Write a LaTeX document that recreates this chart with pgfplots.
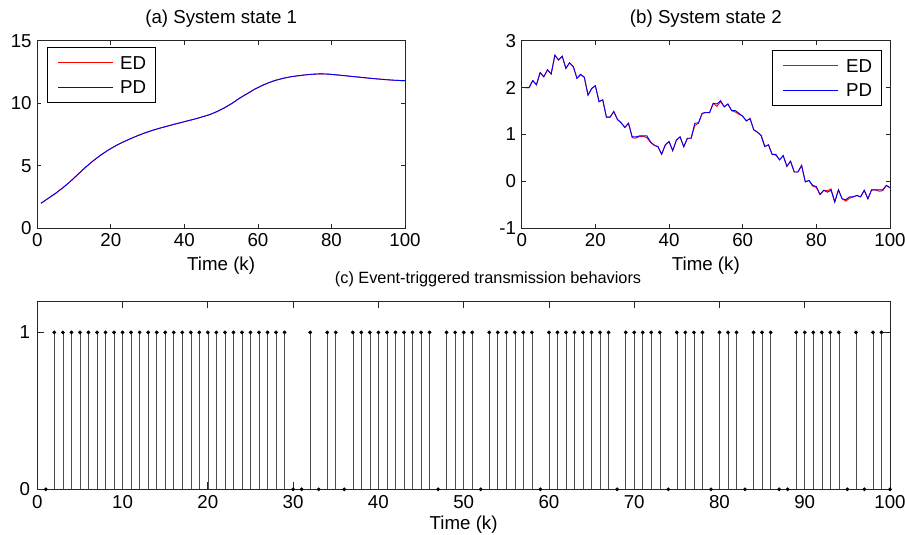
\documentclass[border=0pt]{standalone}
\usepackage{fontspec}
\setmainfont{Liberation Sans}
\usepackage{pgfplots}
\usepackage{pgfplotstable}
\pgfplotsset{compat=1.18}
\newcommand\fs{\fontsize{18.7}{22}\selectfont}

\pgfplotstableread{
k y
1 2.0
3 2.4
5 2.8
7 3.25
9 3.75
11 4.3
13 4.85
15 5.35
17 5.8
19 6.2
21 6.55
23 6.85
25 7.12
27 7.37
29 7.6
31 7.8
33 7.98
35 8.14
37 8.3
39 8.45
41 8.6
43 8.75
45 8.92
47 9.1
49 9.35
51 9.65
53 10.0
55 10.4
57 10.75
59 11.1
61 11.4
63 11.65
65 11.85
67 12.0
69 12.12
71 12.2
73 12.27
75 12.32
77 12.35
79 12.33
81 12.28
83 12.22
85 12.16
87 12.1
89 12.04
91 11.98
93 11.93
95 11.88
97 11.84
99 11.81
100 11.8
}\stateone

\pgfplotstableread{
k pd ed
1 2.00 2.00
2 2.00 2.00
3 2.15 2.15
4 2.06 2.06
5 2.32 2.32
6 2.23 2.23
7 2.38 2.38
8 2.29 2.29
9 2.69 2.69
10 2.59 2.59
11 2.67 2.67
12 2.41 2.41
13 2.53 2.53
14 2.45 2.45
15 2.20 2.20
16 2.28 2.28
17 2.22 2.22
18 1.84 1.84
19 1.98 1.98
20 2.04 2.04
21 1.70 1.70
22 1.74 1.74
23 1.37 1.37
24 1.37 1.37
25 1.49 1.49
26 1.32 1.32
27 1.25 1.25
28 1.15 1.15
29 1.24 1.24
30 0.95 0.93
31 0.95 0.92
32 0.97 0.96
33 0.97 0.96
34 0.97 0.93
35 0.84 0.83
36 0.77 0.77
37 0.74 0.74
38 0.58 0.58
39 0.78 0.78
40 0.85 0.85
41 0.655 0.655
42 0.88 0.88
43 0.95 0.95
44 0.74 0.74
45 0.92 0.92
46 0.92 0.92
47 1.24 1.19
48 1.25 1.24
49 1.45 1.45
50 1.47 1.47
51 1.465 1.465
52 1.665 1.665
53 1.65 1.60
54 1.72 1.70
55 1.59 1.59
56 1.65 1.65
57 1.51 1.51
58 1.51 1.48
59 1.45 1.43
60 1.39 1.39
61 1.29 1.29
62 1.34 1.34
63 1.10 1.10
64 1.05 1.05
65 0.98 0.98
66 0.745 0.745
67 0.78 0.78
68 0.575 0.575
69 0.575 0.56
70 0.46 0.46
71 0.55 0.55
72 0.32 0.32
73 0.43 0.43
74 0.20 0.20
75 0.20 0.20
76 0.34 0.34
77 -0.01 -0.01
78 0.02 0.02
79 -0.085 -0.10
80 -0.11 -0.13
81 -0.28 -0.28
82 -0.19 -0.19
83 -0.23 -0.20
84 -0.19 -0.16
85 -0.44 -0.44
86 -0.18 -0.18
87 -0.37 -0.37
88 -0.39 -0.42
89 -0.33 -0.36
90 -0.33 -0.33
91 -0.30 -0.30
92 -0.33 -0.33
93 -0.19 -0.19
94 -0.37 -0.37
95 -0.18 -0.18
96 -0.18 -0.18
97 -0.18 -0.21
98 -0.18 -0.20
99 -0.085 -0.085
100 -0.135 -0.135
}\statetwo

\pgfplotstableread{
k s
1 0
2 1
3 1
4 1
5 1
6 1
7 1
8 1
9 1
10 1
11 1
12 1
13 1
14 1
15 1
16 1
17 1
18 1
19 1
20 1
21 1
22 1
23 1
24 1
25 1
26 1
27 1
28 1
29 1
30 0
31 0
32 1
33 0
34 1
35 1
36 0
37 1
38 1
39 1
40 1
41 1
42 1
43 1
44 1
45 1
46 1
47 0
48 1
49 1
50 1
51 1
52 0
53 1
54 1
55 1
56 1
57 1
58 1
59 0
60 1
61 1
62 1
63 1
64 1
65 1
66 1
67 1
68 0
69 1
70 1
71 1
72 1
73 1
74 0
75 1
76 1
77 1
78 1
79 0
80 1
81 1
82 1
83 0
84 1
85 1
86 1
87 0
88 0
89 1
90 1
91 1
92 1
93 1
94 1
95 0
96 1
97 0
98 1
99 1
100 0
}\trigger

\pgfplotsset{
  mystyle/.style={
    scale only axis,
    axis line style={black!85, line width=0.8pt},
    every tick/.style={black!85, line width=0.8pt},
    tick align=inside,
    major tick length=4pt,
    xmin=0, xmax=100,
    ticklabel style={font=\fs},
    /pgf/number format/assume math mode=true,
    xticklabel style={inner sep=0pt, anchor=north, yshift=-5pt},
    yticklabel style={inner sep=0pt, anchor=east, xshift=-5.5pt},
    label style={font=\fs},
    xlabel style={at={(axis description cs:0.5,0)}, anchor=north, inner sep=0pt, yshift=-28pt},
    title style={font=\fs, at={(axis description cs:0.5,1)}, anchor=base, inner sep=0pt, yshift=11.5pt},
  }
}

\begin{document}
\begin{tikzpicture}
\useasboundingbox (0,0) rectangle (905pt,535pt);

\begin{axis}[mystyle,
  at={(37.3pt,306.7pt)}, anchor=south west,
  width=367.7pt, height=187.6pt,
  ymin=0, ymax=15, ytick={0,5,10,15}, xtick={0,20,...,100},
  xlabel={Time (k)}, title={(a) System state 1}]
\addplot[red, line width=0.9pt] table[x=k,y=y] {\stateone};
\addplot[blue, line width=0.9pt] table[x=k,y=y] {\stateone};
\draw[black, line width=0.6pt, fill=white] (axis description cs:0.0264,0.9664) rectangle (axis description cs:0.3201,0.6732);
\fill[red] ([yshift=-0.6pt]axis description cs:0.0571,0.8817) rectangle ([yshift=0.6pt]axis description cs:0.2067,0.8817);
\fill[blue] ([yshift=-0.6pt]axis description cs:0.0571,0.7505) rectangle ([yshift=0.6pt]axis description cs:0.2067,0.7505);
\node[anchor=west, inner sep=0pt, font=\fs] at (axis description cs:0.2249,0.8817) {ED};
\node[anchor=west, inner sep=0pt, font=\fs] at (axis description cs:0.2249,0.7505) {PD};
\end{axis}

\begin{axis}[mystyle,
  at={(521.7pt,306.7pt)}, anchor=south west,
  width=368.3pt, height=187.6pt,
  ymin=-1, ymax=3, ytick={-1,0,1,2,3}, xtick={0,20,...,100},
  xlabel={Time (k)}, title={(b) System state 2}]
\addplot[red, line width=0.9pt] table[x=k,y=ed] {\statetwo};
\addplot[blue, line width=0.9pt] table[x=k,y=pd] {\statetwo};
\draw[black, line width=0.6pt, fill=white] (axis description cs:0.6815,0.9504) rectangle (axis description cs:0.9756,0.6573);
\fill[red] ([yshift=-0.6pt]axis description cs:0.7103,0.8662) rectangle ([yshift=0.6pt]axis description cs:0.8596,0.8662);
\fill[blue] ([yshift=-0.6pt]axis description cs:0.7103,0.7356) rectangle ([yshift=0.6pt]axis description cs:0.8596,0.7356);
\node[anchor=west, inner sep=0pt, font=\fs] at (axis description cs:0.8805,0.8662) {ED};
\node[anchor=west, inner sep=0pt, font=\fs] at (axis description cs:0.8805,0.7356) {PD};
\end{axis}

\begin{axis}[mystyle,
  at={(37.3pt,45.7pt)}, anchor=south west,
  width=852.7pt, height=188.3pt,
  major tick length=7pt,
  ymin=0, ymax=1.2, ytick={0,1}, xtick={0,10,...,100},
  yticklabel style={xshift=-1.5pt},
  xticklabel style={yshift=-1pt},
  xlabel style={yshift=2pt},
  xlabel={Time (k)}, title={(c) Event-triggered transmission behaviors},
  title style={font=\fontsize{16.3}{20}\selectfont, at={(axis description cs:0.5286,1)}}]
\addplot[ycomb, draw=black!70, line width=0.55pt, mark=*, mark size=1.6pt, mark options={draw=black, fill=black}] table[x=k,y=s] {\trigger};
\end{axis}
\end{tikzpicture}
\end{document}
